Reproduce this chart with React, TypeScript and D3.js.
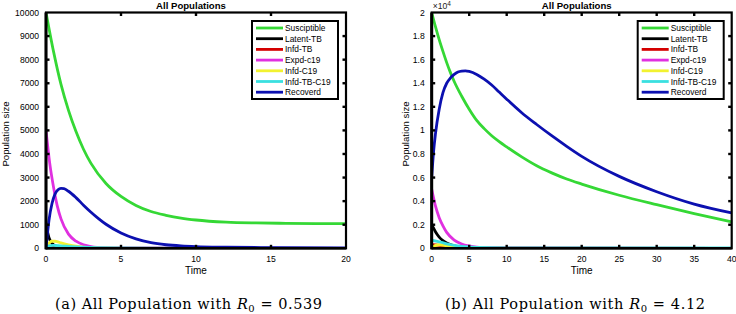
import React from "react";
import * as d3 from "d3";

// ---------- data ----------
const legendLabels = ["Susciptible", "Latent-TB", "Infd-TB", "Expd-c19", "Infd-C19", "Infd-TB-C19", "Recoverd"];
const seriesColors = ["#35d835", "#000000", "#d40000", "#e030e0", "#f2f230", "#3ae0e0", "#0c10b0"];

// Panel (a): R0 = 0.539, time 0..20
const aSusT = [0, 0.5, 1, 1.5, 2, 2.5, 3, 4, 5, 6, 7, 8, 9, 10, 12, 14, 16, 18, 20];
const aSusV = [10000, 8350, 6950, 5850, 4950, 4200, 3600, 2750, 2200, 1820, 1560, 1400, 1280, 1200, 1110, 1075, 1060, 1050, 1045];
const aLatT = [0, 0.1, 0.2, 0.3, 0.5, 0.75, 1, 1.5, 2, 20];
const aLatV = [1000, 700, 450, 300, 150, 70, 30, 10, 0, 0];
const aTbT = [0, 0.5, 1, 2, 3, 5, 20];
const aTbV = [50, 60, 45, 20, 8, 2, 0];
const aExpT = [0, 0.25, 0.5, 0.75, 1, 1.5, 2, 2.5, 3, 4, 5, 20];
const aExpV = [5000, 3600, 2600, 1800, 1250, 600, 300, 150, 75, 20, 5, 0];
const aC19T = [0, 0.2, 0.4, 0.6, 0.8, 1, 1.5, 2, 2.5, 3, 4, 5, 20];
const aC19V = [0, 220, 300, 300, 270, 230, 150, 90, 50, 25, 5, 0, 0];
const aTbcT = [0, 0.5, 1, 2, 3, 5, 8, 10, 20];
const aTbcV = [80, 120, 100, 60, 35, 15, 6, 2, 0];
const aRecT = [0, 0.2, 0.4, 0.6, 0.8, 1, 1.2, 1.5, 2, 2.5, 3, 3.5, 4, 5, 6, 7, 8, 9, 10, 12, 15, 20];
const aRecV = [0, 1200, 1900, 2300, 2480, 2540, 2530, 2420, 2150, 1830, 1530, 1260, 1020, 650, 400, 240, 150, 100, 70, 45, 30, 20];

// Panel (b): R0 = 4.12, time 0..40, values in units of 10^4
const bSusT = [0, 0.5, 1, 1.5, 2, 2.5, 3, 4, 5, 6, 7, 8, 9, 10, 12, 14, 16, 18, 20, 25, 30, 35, 40];
const bSusV = [2.0, 1.88, 1.77, 1.67, 1.575, 1.49, 1.415, 1.29, 1.18, 1.085, 1.015, 0.955, 0.905, 0.86, 0.775, 0.70, 0.64, 0.588, 0.545, 0.45, 0.37, 0.295, 0.225];
const bLatT = [0, 0.25, 0.5, 1, 1.5, 2, 3, 4, 6, 40];
const bLatV = [0.2, 0.17, 0.14, 0.095, 0.065, 0.045, 0.02, 0.01, 0.002, 0];
const bTbT = [0, 1, 2, 4, 6, 40];
const bTbV = [0.03, 0.025, 0.015, 0.005, 0.001, 0];
const bExpT = [0, 0.5, 1, 1.5, 2, 3, 4, 5, 6, 8, 10, 40];
const bExpV = [0.5, 0.36, 0.26, 0.19, 0.135, 0.07, 0.037, 0.02, 0.01, 0.003, 0.001, 0];
const bC19T = [0, 0.5, 1, 2, 3, 5, 8, 40];
const bC19V = [0, 0.025, 0.03, 0.02, 0.012, 0.003, 0, 0];
const bTbcT = [0, 1, 2, 3, 4, 6, 10, 20, 40];
const bTbcV = [0.07, 0.055, 0.038, 0.025, 0.016, 0.008, 0.004, 0.003, 0.003];
const bRecT = [0, 0.25, 0.5, 1, 1.5, 2, 2.5, 3, 3.5, 4, 4.5, 5, 6, 7, 8, 9, 10, 12, 14, 16, 18, 20, 25, 30, 35, 40];
const bRecV = [0.6, 0.82, 0.97, 1.18, 1.32, 1.40, 1.445, 1.475, 1.495, 1.503, 1.505, 1.50, 1.475, 1.435, 1.385, 1.325, 1.265, 1.15, 1.05, 0.955, 0.865, 0.78, 0.61, 0.48, 0.375, 0.30];

const aXTicks = [0, 5, 10, 15, 20];
const aYTicks = [0, 1000, 2000, 3000, 4000, 5000, 6000, 7000, 8000, 9000, 10000];
const bXTicks = [0, 5, 10, 15, 20, 25, 30, 35, 40];
const bYTicks = [0, 0.2, 0.4, 0.6, 0.8, 1, 1.2, 1.4, 1.6, 1.8, 2];

const panelA = {
  id: "a",
  series: [
    [aSusT, aSusV], [aLatT, aLatV], [aTbT, aTbV], [aExpT, aExpV], [aC19T, aC19V], [aTbcT, aTbcV], [aRecT, aRecV],
  ],
  xDomain: [0, 20], yDomain: [0, 10000], xTicks: aXTicks, yTicks: aYTicks,
  caption: "0.539", label: "(a)", exponent: false, ylabOffset: 37, capX: 188.5, capW: 267,
};
const panelB = {
  id: "b",
  series: [
    [bSusT, bSusV], [bLatT, bLatV], [bTbT, bTbV], [bExpT, bExpV], [bC19T, bC19V], [bTbcT, bTbcV], [bRecT, bRecV],
  ],
  xDomain: [0, 40], yDomain: [0, 2], xTicks: bXTicks, yTicks: bYTicks,
  caption: "4.12", label: "(b)", exponent: true, ylabOffset: 22.5, capX: 575, capW: 260,
};

const SANS = "'Liberation Sans', Arial, Helvetica, sans-serif";
const SERIF = "'DejaVu Serif', 'Liberation Serif', serif";

function Panel({ p, left, right }: any) {
  const top = 12.5, bottom = 248.3;
  const x = d3.scaleLinear().domain(p.xDomain).range([left, right]);
  const y = d3.scaleLinear().domain(p.yDomain).range([bottom, top]);
  const line = d3.line<[number, number]>().x((d) => x(d[0])).y((d) => y(d[1])).curve(d3.curveMonotoneX);
  const cx = (left + right) / 2;
  const legX = right - 94;
  const legY = 21;
  const rowH = 10.7;
  const clipId = "clip-" + p.id;
  const fmt = (v: number) => (p.exponent ? d3.format("~g")(v) : String(v));
  return (
    <g>
      <defs>
        <clipPath id={clipId}>
          <rect x={left} y={top} width={right - left} height={bottom - top} />
        </clipPath>
      </defs>
      <g clipPath={`url(#${clipId})`}>
        {p.series.map((s: any, i: number) => {
          const pts = s[0].map((t: number, k: number) => [t, s[1][k]] as [number, number]);
          return (
            <path key={i} d={line(pts) || ""} fill="none" stroke={seriesColors[i]} strokeWidth={2.8} strokeLinejoin="round" strokeLinecap="round" />
          );
        })}
      </g>
      {/* frame */}
      <rect x={left} y={top} width={right - left} height={bottom - top} fill="none" stroke="#000" strokeWidth={2.2} />
      <line x1={left} x2={left} y1={top} y2={bottom + 1} stroke="#000" strokeWidth={3} />
      <line x1={left} x2={right} y1={bottom} y2={bottom} stroke="#000" strokeWidth={2.6} />
      {/* x ticks */}
      {p.xTicks.map((t: number) => (
        <g key={"xt" + t}>
          {t !== p.xDomain[0] && t !== p.xDomain[1] && (
            <>
              <line x1={x(t)} x2={x(t)} y1={bottom} y2={bottom - 3.5} stroke="#000" strokeWidth={2.4} />
              <line x1={x(t)} x2={x(t)} y1={top} y2={top + 3.5} stroke="#000" strokeWidth={2.4} />
            </>
          )}
          <text x={x(t)} y={bottom + 14} textAnchor="middle" fontFamily={SANS} fontSize={8.6} fill="#000">{t}</text>
        </g>
      ))}
      {/* y ticks */}
      {p.yTicks.map((v: number) => (
        <g key={"yt" + v}>
          {v !== p.yDomain[0] && v !== p.yDomain[1] && (
            <>
              <line x1={left} x2={left + 3.5} y1={y(v)} y2={y(v)} stroke="#000" strokeWidth={2.4} />
              <line x1={right} x2={right - 3.5} y1={y(v)} y2={y(v)} stroke="#000" strokeWidth={2.4} />
            </>
          )}
          <text x={left - 7} y={y(v) + 3} textAnchor="end" fontFamily={SANS} fontSize={8.6} fill="#000">{fmt(v)}</text>
        </g>
      ))}
      {p.exponent && (
        <text x={left + 1} y={9} fontFamily={SANS} fontSize={8.6} fill="#222">
          ×10<tspan dy={-3} fontSize={6.5}>4</tspan>
        </text>
      )}
      {/* title */}
      <text x={cx - 5} y={8.5} textAnchor="middle" fontFamily={SANS} fontWeight="bold" fontSize={9.6} fill="#000">All Populations</text>
      {/* axis labels */}
      <text x={cx} y={274} textAnchor="middle" fontFamily={SANS} fontSize={10} fill="#000">Time</text>
      <text transform={`translate(${left - p.ylabOffset},134) rotate(-90)`} textAnchor="middle" fontFamily={SANS} fontSize={9.6} fill="#000">Population size</text>
      {/* legend */}
      <rect x={legX} y={legY} width={86} height={78} fill="#fff" stroke="#000" strokeWidth={2} />
      {legendLabels.map((lab, i) => (
        <g key={lab}>
          <line x1={legX + 4} x2={legX + 31} y1={legY + 7 + i * rowH} y2={legY + 7 + i * rowH} stroke={seriesColors[i]} strokeWidth={2.8} />
          <text x={legX + 33} y={legY + 10 + i * rowH} fontFamily={SANS} fontSize={8.4} fill="#000">{lab}</text>
        </g>
      ))}
      {/* caption */}
      <text x={p.capX - p.capW / 2} y={309} fontFamily={SERIF} fontSize={14.5} textLength={p.capW} lengthAdjust="spacing" fill="#000">
        {p.label} All Population with <tspan fontStyle="italic">R</tspan>
        <tspan dy={3} fontSize={10}>0</tspan>
        <tspan dy={-3}> = {p.caption}</tspan>
      </text>
    </g>
  );
}

export default function App() {
  return (
    <svg width={736} height={314} viewBox="0 0 736 314" style={{ position: "absolute", left: 0, top: 0, background: "#fff" }}>
      <rect x={0} y={0} width={736} height={314} fill="#fff" />
      <Panel p={panelA} left={46} right={346} />
      <Panel p={panelB} left={431.7} right={731.7} />
    </svg>
  );
}
